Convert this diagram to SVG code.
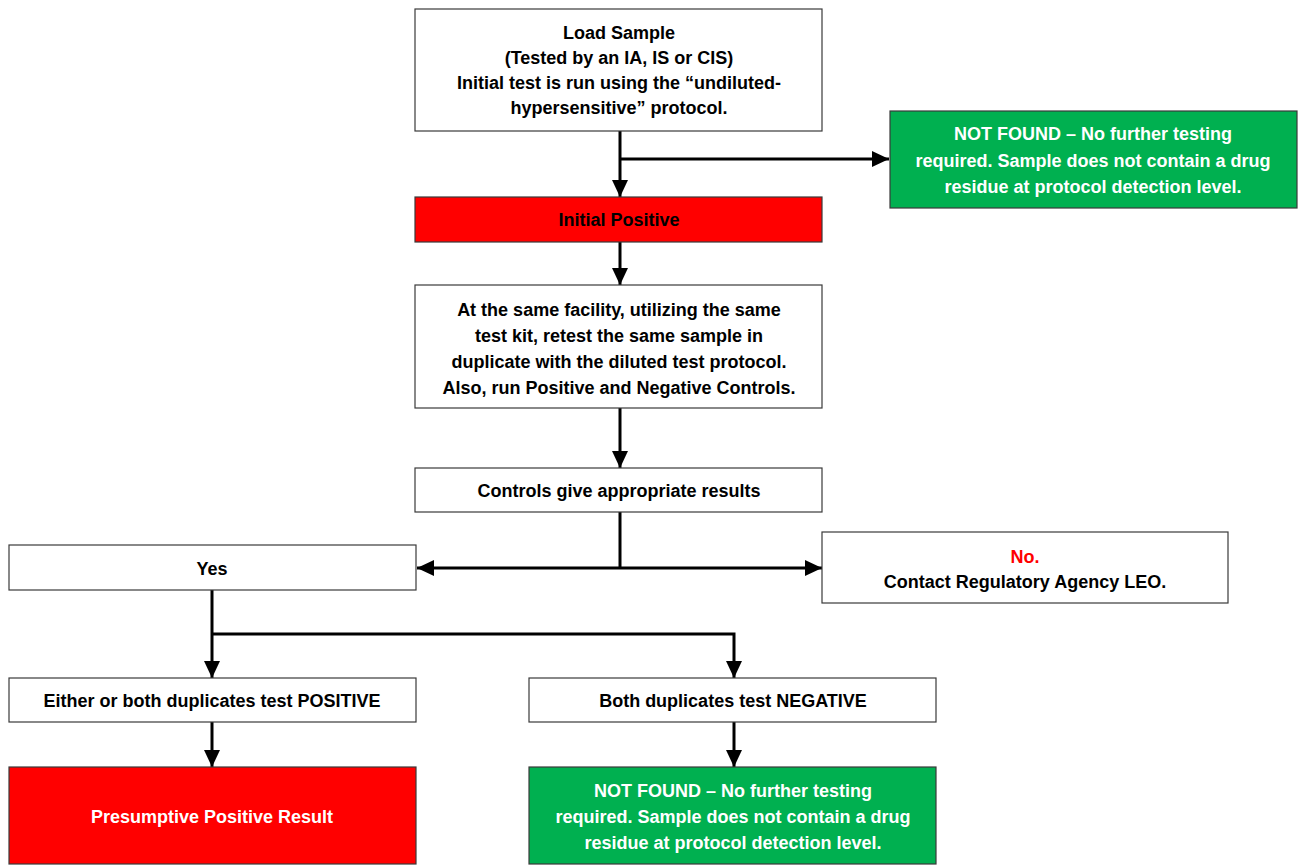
<svg xmlns="http://www.w3.org/2000/svg" width="1307" height="865" viewBox="0 0 1307 865">
<style>
.box{stroke:#3a3a3a;stroke-width:1.2}
.w{fill:#ffffff}
.r{fill:#ff0000}
.g{fill:#00b050}
text{font-family:"Liberation Sans",Arial,sans-serif;font-weight:bold;font-size:18px;text-anchor:middle}
.k{fill:#000}
.wt{fill:#fff}
.rt{fill:#ff0000}
.c{fill:none;stroke:#000;stroke-width:3}
</style>
<defs>
<marker id="ah" markerUnits="userSpaceOnUse" markerWidth="18" markerHeight="18" viewBox="0 0 18 18" refX="17" refY="9" orient="auto">
<path d="M0,1 L17,9 L0,17 Z" fill="#000"/>
</marker>
</defs>
<rect width="1307" height="865" fill="#fff"/>
<g id="connectors">
<line class="c" x1="620" y1="131" x2="620" y2="197" marker-end="url(#ah)"/>
<line class="c" x1="620" y1="159" x2="889" y2="159" marker-end="url(#ah)"/>
<line class="c" x1="620" y1="242" x2="620" y2="285" marker-end="url(#ah)"/>
<line class="c" x1="620" y1="408" x2="620" y2="468" marker-end="url(#ah)"/>
<line class="c" x1="620" y1="512" x2="620" y2="568"/>
<line class="c" x1="620" y1="568" x2="417" y2="568" marker-end="url(#ah)"/>
<line class="c" x1="620" y1="568" x2="822" y2="568" marker-end="url(#ah)"/>
<line class="c" x1="212" y1="590" x2="212" y2="678" marker-end="url(#ah)"/>
<polyline class="c" points="212,634 734,634 734,678" marker-end="url(#ah)"/>
<line class="c" x1="212" y1="722" x2="212" y2="767" marker-end="url(#ah)"/>
<line class="c" x1="734" y1="722" x2="734" y2="767" marker-end="url(#ah)"/>
</g>
<g id="load-sample">
<rect class="box w" x="415" y="9" width="407" height="122"/>
<text class="k" x="619" y="39">Load Sample</text>
<text class="k" x="619" y="64">(Tested by an IA, IS or CIS)</text>
<text class="k" x="619" y="89">Initial test is run using the “undiluted-</text>
<text class="k" x="619" y="114">hypersensitive” protocol.</text>
</g>
<g id="not-found-1">
<rect class="box g" x="890" y="111" width="407" height="97"/>
<text class="wt" x="1093" y="140">NOT FOUND – No further testing</text>
<text class="wt" x="1093" y="167">required. Sample does not contain a drug</text>
<text class="wt" x="1093" y="193">residue at protocol detection level.</text>
</g>
<g id="initial-positive">
<rect class="box r" x="415" y="197" width="407" height="45"/>
<text class="k" x="619" y="226">Initial Positive</text>
</g>
<g id="retest">
<rect class="box w" x="415" y="285" width="407" height="123"/>
<text class="k" x="619" y="316">At the same facility, utilizing the same</text>
<text class="k" x="619" y="342">test kit, retest the same sample in</text>
<text class="k" x="619" y="368">duplicate with the diluted test protocol.</text>
<text class="k" x="619" y="394">Also, run Positive and Negative Controls.</text>
</g>
<g id="controls">
<rect class="box w" x="415" y="468" width="407" height="44"/>
<text class="k" x="619" y="497">Controls give appropriate results</text>
</g>
<g id="yes">
<rect class="box w" x="9" y="545" width="407" height="45"/>
<text class="k" x="212" y="575">Yes</text>
</g>
<g id="no">
<rect class="box w" x="822" y="532" width="406" height="71"/>
<text class="rt" x="1025" y="563">No.</text>
<text class="k" x="1025" y="588">Contact Regulatory Agency LEO.</text>
</g>
<g id="either-positive">
<rect class="box w" x="9" y="678" width="407" height="44"/>
<text class="k" x="212" y="707">Either or both duplicates test POSITIVE</text>
</g>
<g id="both-negative">
<rect class="box w" x="529" y="678" width="407" height="44"/>
<text class="k" x="733" y="707">Both duplicates test NEGATIVE</text>
</g>
<g id="presumptive-positive">
<rect class="box r" x="9" y="767" width="407" height="97"/>
<text class="wt" x="212" y="823">Presumptive Positive Result</text>
</g>
<g id="not-found-2">
<rect class="box g" x="529" y="767" width="407" height="97"/>
<text class="wt" x="733" y="797">NOT FOUND – No further testing</text>
<text class="wt" x="733" y="823">required. Sample does not contain a drug</text>
<text class="wt" x="733" y="849">residue at protocol detection level.</text>
</g>
</svg>
